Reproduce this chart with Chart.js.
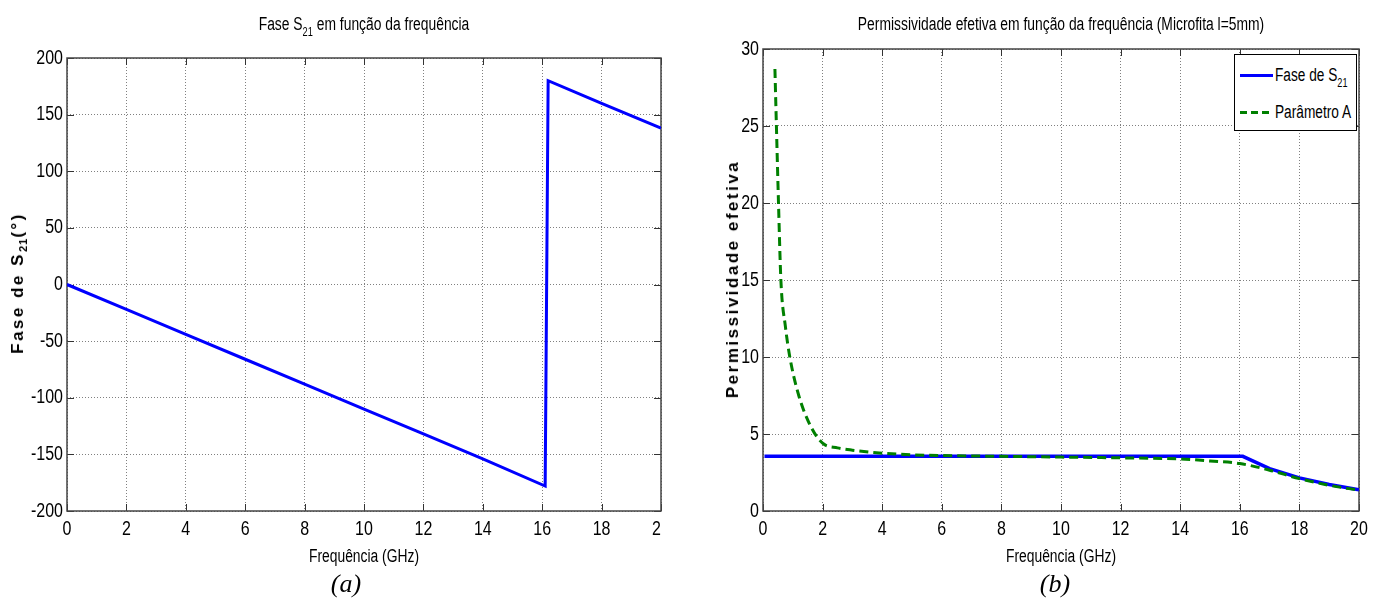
<!DOCTYPE html>
<html><head><meta charset="utf-8">
<script src="https://cdn.jsdelivr.net/npm/chart.js@4.4.0/dist/chart.umd.min.js"></script>
<style>
html,body{margin:0;padding:0;background:#fff;width:1384px;height:601px;overflow:hidden;position:relative;}
body{font-family:"Liberation Sans",Arial,sans-serif;color:#000;}
canvas{position:absolute;top:0;}
#ca{left:0;}
#cb{left:692px;}
.t{position:absolute;white-space:nowrap;font-size:18px;line-height:20px;transform:translate(-50%,-50%) scaleX(0.77);}
.t sub{font-size:12px;vertical-align:-6px;line-height:0;}
.yl{position:absolute;white-space:nowrap;font-family:"Liberation Sans",Arial,sans-serif;font-weight:bold;font-size:17px;letter-spacing:2.5px;transform:translate(-50%,-50%) rotate(-90deg);}
.yl sub{font-size:11px;vertical-align:-4px;line-height:0;letter-spacing:1px;}
.cap{position:absolute;font-family:"Liberation Serif","Times New Roman",serif;font-style:italic;font-size:26px;transform:translate(-50%,-50%);}
#legend{position:absolute;left:1234px;top:54px;width:121px;height:75px;border:1px solid #000;background:#fff;}
.lrow{position:absolute;left:0;height:20px;width:121px;}
.lline{position:absolute;left:5px;width:33px;height:3px;top:9px;}
.ltxt{position:absolute;left:40px;top:0;font-size:18px;line-height:20px;white-space:nowrap;transform:scaleX(0.76);transform-origin:0 50%;}
.ltxt sub{font-size:12px;vertical-align:-6px;line-height:0;}
</style>
</head><body>
<canvas id="ca" width="662" height="601"></canvas>
<canvas id="cb" width="692" height="601"></canvas>

<div class="t" style="left:364px;top:24px">Fase S<sub>21</sub> em função da frequência</div>
<div class="t" style="left:1061px;top:24px">Permissividade efetiva em função da frequência (Microfita l=5mm)</div>
<div class="t" style="left:364px;top:556px">Frequência (GHz)</div>
<div class="t" style="left:1061px;top:556px">Frequência (GHz)</div>
<div class="yl" style="left:18px;top:283px">Fase de S<sub>21</sub>(°)</div>
<div class="yl" style="left:733px;top:279px">Permissividade efetiva</div>
<div class="cap" style="left:346px;top:584px">(a)</div>
<div class="cap" style="left:1055px;top:584px">(b)</div>
<div id="legend"></div>

<script>
// ---- data ----
const freqTicks = [0, 2, 4, 6, 8, 10, 12, 14, 16, 18, 20];
const phaseTicks = [-200, -150, -100, -50, 0, 50, 100, 150, 200];
const epsTicks = [0, 5, 10, 15, 20, 25, 30];

// (a) phase of S21
const phaseFreqGHz = [0, 2, 4, 6, 8, 10, 12, 14, 16.1, 16.2, 18, 20];
const phaseDeg     = [0, -22, -44, -66, -88, -110, -132, -154, -178, 180, 160, 138];

// (b) effective permittivity
const seriesNames = ['Fase de S<sub>21</sub>', 'Parâmetro A'];
const epsFreqPhase = [0.05, 16.1, 17, 18, 19, 20];
const epsPhase     = [3.55, 3.55, 2.75, 2.15, 1.72, 1.38];
const epsFreqA = [0.4, 0.45, 0.52, 0.6, 0.75, 0.9, 1.2, 1.6, 2, 2.5, 3, 4, 5, 6, 8, 10, 12, 14, 15, 16, 17, 18, 19, 20];
const epsA     = [28.7, 25, 20, 15, 12, 10, 7.5, 5.5, 4.4, 4.1, 3.95, 3.75, 3.65, 3.6, 3.55, 3.5, 3.45, 3.38, 3.25, 3.08, 2.65, 2.1, 1.67, 1.35];

const pts = (xs, ys) => xs.map((x, i) => ({x, y: ys[i]}));
const TICKFONT = {family: '"Liberation Sans", Arial, sans-serif', size: 20};
const TICK_SX = 0.8;

// draw the library's tick label items with a horizontally condensed face
function narrowLabels(scale, sx, clipRight) {
  if (scale._narrowed) return;
  scale._narrowed = true;
  scale.drawLabels = function (chartArea) {
    const ctx = this.ctx;
    const items = this.getLabelItems(chartArea);
    ctx.save();
    if (clipRight && this.isHorizontal()) {
      ctx.beginPath();
      ctx.rect(0, 0, Math.round(this.chart.chartArea.right), this.chart.height);
      ctx.clip();
    }
    for (const item of items) {
      const o = item.options;
      ctx.save();
      ctx.translate(o.translation[0], o.translation[1]);
      if (o.rotation) ctx.rotate(o.rotation);
      ctx.scale(sx, 1);
      ctx.font = item.font.string;
      ctx.fillStyle = o.color;
      ctx.textAlign = o.textAlign;
      ctx.textBaseline = o.textBaseline;
      const lines = Array.isArray(item.label) ? item.label : [item.label];
      lines.forEach((l, i) => ctx.fillText(String(l), 0, item.textOffset + i * item.font.lineHeight));
      ctx.restore();
    }
    ctx.restore();
  };
}

const framePlugin = {
  id: 'frame',
  beforeDraw(chart, args, opts) {
    Object.values(chart.scales).forEach(s => narrowLabels(s, TICK_SX, chart.canvas.id === 'ca'));
  },
  beforeDatasetsDraw(chart) {
    const {ctx, chartArea: a, scales: {x, y}} = chart;
    const L = Math.round(a.left), R = Math.round(a.right), T = Math.round(a.top), B = Math.round(a.bottom);
    const len = 7;
    ctx.save();
    ctx.strokeStyle = '#333';
    ctx.lineWidth = 1;
    ctx.beginPath();
    x.ticks.forEach(t => {
      const px = Math.round(x.getPixelForValue(t.value)) + 0.5;
      ctx.moveTo(px, B); ctx.lineTo(px, B - len);
      ctx.moveTo(px, T); ctx.lineTo(px, T + len);
    });
    y.ticks.forEach(t => {
      const py = Math.round(y.getPixelForValue(t.value)) + 0.5;
      ctx.moveTo(L, py); ctx.lineTo(L + len, py);
      ctx.moveTo(R, py); ctx.lineTo(R - len, py);
    });
    ctx.stroke();
    ctx.strokeStyle = '#444';
    ctx.lineWidth = 1.5;
    ctx.strokeRect(L, T, R - L, B - T);
    ctx.restore();
  }
};

function axisX() {
  return {
    type: 'linear', min: 0, max: 20,
    afterBuildTicks: s => { s.ticks = freqTicks.map(v => ({value: v})); },
    ticks: {font: TICKFONT, color: '#000', padding: 6, maxRotation: 0, autoSkip: false},
    grid: {color: '#808080', lineWidth: 1, drawTicks: false},
    border: {display: false, dash: [1, 2]},
    afterFit: s => { s.height = 40; s.paddingLeft = 0; s.paddingRight = 0; }
  };
}
function axisY(min, max, tickVals) {
  return {
    type: 'linear', min, max,
    afterBuildTicks: s => { s.ticks = tickVals.map(v => ({value: v})); },
    ticks: {font: TICKFONT, color: '#000', padding: 4, autoSkip: false},
    grid: {color: '#808080', lineWidth: 1, drawTicks: false},
    border: {display: false, dash: [1, 2]},
    afterFit: s => { s.width = 60; }
  };
}
function baseOptions(pad, yAxis) {
  return {
    responsive: false, animation: false,
    layout: {padding: pad},
    plugins: {legend: {display: false}, tooltip: {enabled: false}, title: {display: false}},
    elements: {point: {radius: 0}},
    scales: {x: axisX(), y: yAxis}
  };
}

new Chart(document.getElementById('ca'), {
  type: 'line',
  data: {datasets: [{
    label: 'Fase de S21',
    data: pts(phaseFreqGHz, phaseDeg),
    borderColor: '#0000ff', borderWidth: 3, tension: 0, fill: false
  }]},
  options: baseOptions({top: 58, right: 1, bottom: 50, left: 7}, axisY(-200, 200, phaseTicks)),
  plugins: [framePlugin]
});

new Chart(document.getElementById('cb'), {
  type: 'line',
  data: {datasets: [{
    label: 'Fase de S21',
    data: pts(epsFreqPhase, epsPhase),
    borderColor: '#0000ff', borderWidth: 3.5, tension: 0, fill: false, order: 1
  }, {
    label: 'Parâmetro A',
    data: pts(epsFreqA, epsA),
    borderColor: '#008000', borderWidth: 3, borderDash: [9, 5], cubicInterpolationMode: 'monotone', fill: false, order: 0
  }]},
  options: baseOptions({top: 49, right: 25, bottom: 50, left: 11}, axisY(0, 30, epsTicks)),
  plugins: [framePlugin]
});

// legend (HTML, built from series names)
const lg = document.getElementById('legend');
const styles = ['background:#0000ff;',
  'background:repeating-linear-gradient(90deg,#008000 0 7px,transparent 7px 11px);'];
seriesNames.forEach((name, i) => {
  const row = document.createElement('div');
  row.className = 'lrow';
  row.style.top = (i === 0 ? 10 : 47) + 'px';
  row.innerHTML = '<div class="lline" style="' + styles[i] + '"></div><div class="ltxt">' + name + '</div>';
  lg.appendChild(row);
});
</script>
</body></html>
